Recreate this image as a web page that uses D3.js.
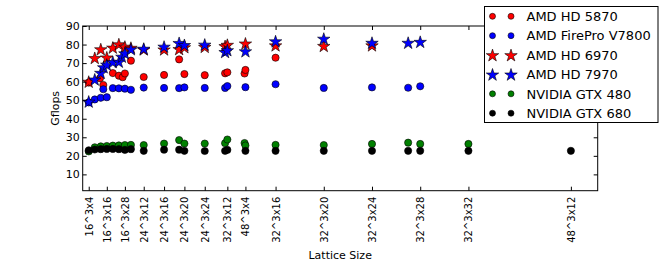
<!DOCTYPE html>
<html>
  <head>
    <meta charset="utf-8" />
    <script src="https://d3js.org/d3.v7.min.js"></script>
    <style>
      body { margin: 0; background: #fff; }
      text { font-family: "DejaVu Sans", sans-serif; fill: #000; }
      .axis path, .axis line { stroke: #000; }
    </style>
  </head>
  <body>
    <svg id="chart" width="664" height="266"></svg>

    <script>
      // lattice volume (sites) and Gflops
      const hd5870 = [
        [16384, 59.5], [47000, 61.8], [56000, 58.2], [81920, 64.6], [98304, 63.2],
        [108700, 62.4], [114688, 64.4], [131072, 71.3], [165888, 62.5], [221184, 63.6],
        [262144, 72.0], [276480, 64.1], [331776, 63.5], [387072, 64.5], [393216, 65.0],
        [440000, 64.4], [442368, 66.3], [524288, 72.9]
      ];
      const v7800 = [
        [16384, 48.8], [32768, 50.4], [49152, 51.3], [56000, 55.9], [65536, 51.6],
        [81920, 56.5], [98304, 56.4], [114688, 56.2], [131072, 55.6], [165888, 56.8],
        [221184, 56.6], [262144, 56.5], [276480, 56.9], [331776, 56.6], [387072, 56.6],
        [393216, 57.6], [442368, 57.0], [524288, 58.6], [655360, 56.6], [786432, 56.9],
        [884736, 56.7], [917504, 57.5]
      ];
      const hd6970 = [
        [16384, 60.0], [32768, 72.8], [49152, 77.5], [65536, 73.1], [81920, 78.4],
        [98304, 80.2], [114688, 78.9], [131072, 78.3], [165888, 77.4], [221184, 77.4],
        [262144, 77.6], [276480, 78.6], [331776, 78.8], [387072, 79.2], [393216, 79.9],
        [442368, 80.6], [524288, 79.6], [655360, 79.3], [786432, 79.6]
      ];
      const hd7970 = [
        [16384, 49.3], [32768, 61.2], [49152, 64.8], [57000, 67.8], [65536, 69.2],
        [81920, 70.6], [98304, 70.8], [106496, 73.5], [114688, 75.3], [131072, 77.5],
        [165888, 77.8], [221184, 78.9], [262144, 80.9], [276480, 79.8], [331776, 80.0],
        [387072, 76.0], [393216, 77.0], [442368, 76.4], [524288, 81.8], [655360, 83.2],
        [786432, 81.0], [884736, 81.0], [917504, 81.5]
      ];
      const gtx480 = [
        [16384, 22.4], [32768, 24.6], [49152, 25.1], [65536, 25.3], [81920, 25.5],
        [98304, 25.6], [114688, 25.8], [131072, 25.9], [165888, 25.8], [221184, 26.6],
        [262144, 28.5], [276480, 26.6], [331776, 26.6], [387072, 26.8], [393216, 28.8],
        [440000, 26.9], [442368, 25.6], [524288, 25.9], [655360, 25.8], [786432, 26.4],
        [884736, 27.1], [917504, 26.4], [1048576, 26.4]
      ];
      const gtx680 = [
        [16384, 23.0], [32768, 23.4], [49152, 23.6], [65536, 23.7], [81920, 23.7],
        [98304, 23.6], [114688, 23.2], [131072, 23.6], [165888, 22.7], [221184, 23.3],
        [262144, 23.3], [276480, 22.7], [331776, 22.6], [387072, 22.7], [393216, 23.2],
        [442368, 22.7], [524288, 22.7], [655360, 22.7], [786432, 22.7], [884736, 22.7],
        [917504, 22.7], [1048576, 22.7], [1327104, 22.7]
      ];

      const seriesNames = ["AMD HD 5870", "AMD FirePro V7800", "AMD HD 6970",
        "AMD HD 7970", "NVIDIA GTX 480", "NVIDIA GTX 680"];

      const xTickValues = [16384, 65536, 114688, 165888, 221184, 276480, 331776,
        393216, 442368, 524288, 655360, 786432, 917504, 1048576, 1327104];
      const xTickLabels = ["16^3x4", "16^3x16", "16^3x28", "24^3x12", "24^3x16",
        "24^3x20", "24^3x24", "32^3x12", "48^3x4", "32^3x16", "32^3x20",
        "32^3x24", "32^3x28", "32^3x32", "48^3x12"];
      const yTickValues = [10, 20, 30, 40, 50, 60, 70, 80, 90];

      const series = [
        { name: seriesNames[0], data: hd5870, color: "#ff0000", shape: "circle" },
        { name: seriesNames[1], data: v7800, color: "#0000ff", shape: "circle" },
        { name: seriesNames[2], data: hd6970, color: "#ff0000", shape: "star" },
        { name: seriesNames[3], data: hd7970, color: "#0000ff", shape: "star" },
        { name: seriesNames[4], data: gtx480, color: "#008000", shape: "circle" },
        { name: seriesNames[5], data: gtx680, color: "#000000", shape: "circle" }
      ];

      const svg = d3.select("#chart");
      const m = { left: 82.7, right: 597.7, top: 26, bottom: 190.7 };

      const x = d3.scaleLinear().domain([0, 1400000]).range([m.left, m.right]);
      const y = d3.scaleLinear().domain([1.2, 90]).range([m.bottom, m.top]);

      const starPath = d3.symbol().type(d3.symbolStar).size(48)();

      svg.append("defs").append("clipPath").attr("id", "clip")
        .append("rect")
        .attr("x", m.left).attr("y", m.top)
        .attr("width", m.right - m.left).attr("height", m.bottom - m.top);

      // markers
      const plot = svg.append("g").attr("clip-path", "url(#clip)");
      series.forEach(function (s) {
        const g = plot.append("g");
        if (s.shape === "circle") {
          g.selectAll("circle")
            .data(s.data)
            .join("circle")
            .attr("cx", d => x(d[0]))
            .attr("cy", d => y(d[1]))
            .attr("r", 3.6)
            .attr("fill", s.color)
            .attr("stroke", "#000")
            .attr("stroke-width", 0.6);
        } else {
          g.selectAll("path")
            .data(s.data)
            .join("path")
            .attr("d", starPath)
            .attr("transform", d => `translate(${x(d[0])},${y(d[1]) + 0.6})`)
            .attr("fill", s.color)
            .attr("stroke", "#000")
            .attr("stroke-width", 0.6);
        }
      });

      // axes, ticks point inward like matplotlib classic
      svg.append("g").attr("class", "axis")
        .attr("transform", `translate(${m.left},0)`)
        .call(d3.axisLeft(y).tickValues(yTickValues).tickSize(-4).tickSizeOuter(0).tickPadding(3))
        .call(g => g.select(".domain").remove())
        .selectAll("text").style("font-size", "11px");

      svg.append("g").attr("class", "axis")
        .attr("transform", `translate(${m.right},0)`)
        .call(d3.axisRight(y).tickValues(yTickValues).tickSize(-4).tickSizeOuter(0).tickFormat(""))
        .call(g => g.select(".domain").remove());

      svg.append("g").attr("class", "axis")
        .attr("transform", `translate(0,${m.top})`)
        .call(d3.axisTop(x).tickValues(xTickValues).tickSize(-4).tickSizeOuter(0).tickFormat(""))
        .call(g => g.select(".domain").remove());

      svg.append("g").attr("class", "axis")
        .attr("transform", `translate(0,${m.bottom})`)
        .call(d3.axisBottom(x).tickValues(xTickValues).tickSize(-4).tickSizeOuter(0)
          .tickFormat((d, i) => xTickLabels[i]))
        .call(g => g.select(".domain").remove())
        .selectAll("text")
        .style("font-size", "10px")
        .style("text-anchor", "end")
        .attr("transform", "rotate(-90)")
        .attr("x", -6)
        .attr("y", 0)
        .attr("dy", "0.35em");

      svg.append("rect")
        .attr("x", m.left).attr("y", m.top)
        .attr("width", m.right - m.left).attr("height", m.bottom - m.top)
        .attr("fill", "none").attr("stroke", "#000").attr("stroke-width", 1);

      // axis titles
      svg.append("text")
        .attr("x", (m.left + m.right) / 2).attr("y", 258.5)
        .attr("text-anchor", "middle")
        .style("font-size", "11px")
        .text("Lattice Size");

      svg.append("text")
        .attr("transform", `translate(59,${(m.top + m.bottom) / 2}) rotate(-90)`)
        .attr("text-anchor", "middle")
        .style("font-size", "11px")
        .text("Gflops");

      // legend
      const legend = svg.append("g");
      legend.append("rect")
        .attr("x", 484.5).attr("y", 6.5)
        .attr("width", 173.5).attr("height", 116)
        .attr("fill", "#fff").attr("stroke", "#000").attr("stroke-width", 1);

      const rowY = d3.scaleLinear().domain([0, 5]).range([16.3, 113.2]);
      series.forEach(function (s, i) {
        const row = legend.append("g").attr("transform", `translate(0,${rowY(i)})`);
        [492.5, 511].forEach(function (mx) {
          if (s.shape === "circle") {
            row.append("circle")
              .attr("cx", mx).attr("cy", 0).attr("r", 3)
              .attr("fill", s.color).attr("stroke", "#000").attr("stroke-width", 0.6);
          } else {
            row.append("path")
              .attr("d", starPath)
              .attr("transform", `translate(${mx},0.6)`)
              .attr("fill", s.color).attr("stroke", "#000").attr("stroke-width", 0.6);
          }
        });
        row.append("text")
          .attr("x", 526.5).attr("y", 0).attr("dy", "0.36em")
          .style("font-size", "13px")
          .text(s.name);
      });
    </script>
  </body>
</html>
